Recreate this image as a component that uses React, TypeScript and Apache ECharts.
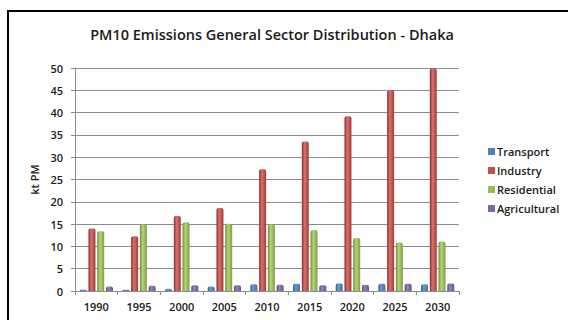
import React, { useEffect, useRef } from "react";
import * as echarts from "echarts";

const years = ["1990", "1995", "2000", "2005", "2010", "2015", "2020", "2025", "2030"];
const transport = [0.3, 0.3, 0.5, 1.0, 1.5, 1.6, 1.7, 1.6, 1.5];
const industry = [14.0, 12.3, 16.8, 18.6, 27.3, 33.5, 39.2, 45.0, 49.9];
const residential = [13.4, 14.9, 15.4, 15.1, 14.9, 13.7, 11.9, 10.9, 11.1];
const agricultural = [1.0, 1.2, 1.3, 1.3, 1.4, 1.3, 1.4, 1.6, 1.7];

const seriesNames = ["Transport", "Industry", "Residential", "Agricultural"];
const seriesColors = [
  ["#2f5f95", "#6a9bd6", "#3a6ca6"],
  ["#8e2f2c", "#d9706d", "#a33c39"],
  ["#6f8c35", "#b5d57a", "#7f9e40"],
  ["#5a4480", "#9b82bd", "#664d8f"],
];
const legendColors = ["#4F81BD", "#C0504D", "#9BBB59", "#8064A2"];

const font = "'Open Sans', 'Liberation Sans', sans-serif";

// Horizontal gradient gives each column a rounded, cylinder-like shading
function cylinder(c: string[]) {
  return new echarts.graphic.LinearGradient(0, 0, 1, 0, [
    { offset: 0, color: c[0] },
    { offset: 0.4, color: c[1] },
    { offset: 1, color: c[2] },
  ]);
}

export default function App() {
  const ref = useRef<HTMLDivElement>(null);

  useEffect(() => {
    if (!ref.current) return;
    const chart = echarts.init(ref.current, null, { renderer: "svg" });
    const values = [transport, industry, residential, agricultural];
    chart.setOption({
      animation: false,
      backgroundColor: "#ffffff",
      title: {
        text: "PM10 Emissions General Sector Distribution - Dhaka",
        left: 267,
        top: 22,
        textAlign: "center",
        textStyle: { fontFamily: font, fontSize: 14.5, fontWeight: 600, color: "#1a1a1a" },
      },
      legend: {
        orient: "vertical",
        left: 483,
        top: 141,
        itemWidth: 7,
        itemHeight: 7,
        itemGap: 8,
        icon: "rect",
        data: seriesNames.map((n, i) => ({ name: n, itemStyle: { color: legendColors[i] } })),
        textStyle: { fontFamily: font, fontSize: 11, fontWeight: 600, color: "#1a1a1a", padding: [0, 0, 0, -3] },
      },
      grid: { left: 75, right: 109, top: 68, bottom: 29 },
      xAxis: {
        type: "category",
        data: years,
        axisLine: { show: true, lineStyle: { color: "#8c8c8c" } },
        axisTick: { show: true, length: 4, lineStyle: { color: "#8c8c8c" } },
        axisLabel: { fontFamily: font, fontSize: 11, fontWeight: 600, color: "#1a1a1a", margin: 10 },
      },
      yAxis: {
        type: "value",
        min: 0,
        max: 50,
        interval: 5,
        name: "kt PM",
        nameLocation: "middle",
        nameGap: 33,
        nameTextStyle: { fontFamily: font, fontSize: 11, fontWeight: 600, color: "#1a1a1a" },
        axisLine: { show: true, lineStyle: { color: "#8c8c8c" } },
        axisTick: { show: true, length: 4, lineStyle: { color: "#8c8c8c" } },
        axisLabel: { fontFamily: font, fontSize: 11, fontWeight: 600, color: "#1a1a1a", margin: 12 },
        splitLine: { lineStyle: { color: "#8c8c8c", width: 1 } },
      },
      graphic: [
        {
          type: "rect",
          shape: { x: 8, y: 11, width: 600, height: 400 },
          style: { fill: "none", stroke: "#000000", lineWidth: 2 },
          silent: true,
          z: 100,
        },
      ],
      series: seriesNames.map((n, i) => ({
        name: n,
        type: "bar",
        data: values[i],
        barWidth: 7,
        barGap: "25%",
        itemStyle: { color: cylinder(seriesColors[i]), borderRadius: [2, 2, 0, 0] },
      })),
    });
    return () => chart.dispose();
  }, []);

  return (
    <div
      ref={ref}
      style={{ position: "fixed", left: 0, top: 0, width: 568, height: 320 }}
    />
  );
}
